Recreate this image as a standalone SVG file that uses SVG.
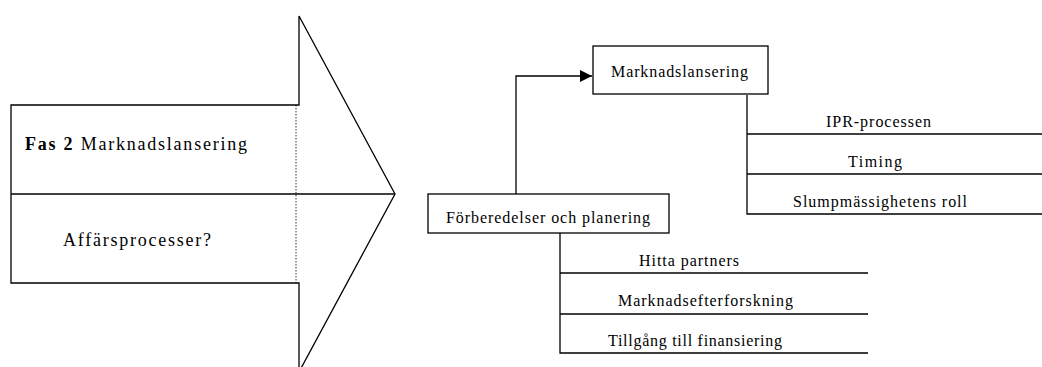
<svg xmlns="http://www.w3.org/2000/svg" width="1042" height="367" viewBox="0 0 1042 367">
<style>
.ln{fill:none;stroke:#000;stroke-width:1.3}
.bx{fill:#fff;stroke:#000;stroke-width:1.3}
.t{font-family:"Liberation Serif","Times New Roman",serif;font-size:16px;fill:#000}
.tl{font-family:"Liberation Serif","Times New Roman",serif;font-size:18px;fill:#000}
</style>
<defs>
<marker id="ah" viewBox="0 0 12 12" refX="12" refY="6" markerWidth="12" markerHeight="12" markerUnits="userSpaceOnUse" orient="auto">
<path d="M0,0 L12,6 L0,12 Z" fill="#000"/>
</marker>
</defs>
<g id="big-arrow">
<path class="ln" d="M11,105 L299,105 L299,16 L395,194 L299,372 L299,283 L11,283 Z" fill="#fff"/>
<line class="ln" x1="11" y1="194" x2="395" y2="194"/>
<line x1="296" y1="105" x2="296" y2="283" stroke="#000" stroke-width="0.8" stroke-dasharray="1.5,1.5"/>
<text class="tl" x="25" y="150" textLength="222" lengthAdjust="spacing"><tspan font-weight="bold">Fas 2</tspan> Marknadslansering</text>
<text class="tl" x="63" y="246" textLength="148" lengthAdjust="spacing">Affärsprocesser?</text>
</g>
<g id="connectors">
<polyline class="ln" points="516,194 516,76 592,76" marker-end="url(#ah)"/>
<polyline class="ln" points="560,233 560,353 868,353"/>
<line class="ln" x1="560" y1="273" x2="868" y2="273"/>
<line class="ln" x1="560" y1="314" x2="868" y2="314"/>
<polyline class="ln" points="747,95 747,214 1042,214"/>
<line class="ln" x1="747" y1="134" x2="1042" y2="134"/>
<line class="ln" x1="747" y1="174" x2="1042" y2="174"/>
</g>
<g id="node-marknadslansering">
<rect class="bx" x="593" y="46" width="175" height="48"/>
<text class="t" x="611" y="77" textLength="137" lengthAdjust="spacing">Marknadslansering</text>
</g>
<g id="node-forberedelser">
<rect class="bx" x="428" y="194" width="241" height="39"/>
<text class="t" x="446" y="223" textLength="204" lengthAdjust="spacing">Förberedelser och planering</text>
</g>
<g id="item-hitta">
<text class="t" x="639" y="266" textLength="100" lengthAdjust="spacing">Hitta partners</text>
</g>
<g id="item-marknadsefterforskning">
<text class="t" x="618" y="306" textLength="175" lengthAdjust="spacing">Marknadsefterforskning</text>
</g>
<g id="item-tillgang">
<text class="t" x="608" y="346" textLength="174" lengthAdjust="spacing">Tillgång till finansiering</text>
</g>
<g id="item-ipr">
<text class="t" x="826" y="127" textLength="105" lengthAdjust="spacing">IPR-processen</text>
</g>
<g id="item-timing">
<text class="t" x="848" y="167" textLength="54" lengthAdjust="spacing">Timing</text>
</g>
<g id="item-slump">
<text class="t" x="793" y="207" textLength="174" lengthAdjust="spacing">Slumpmässighetens roll</text>
</g>
</svg>
